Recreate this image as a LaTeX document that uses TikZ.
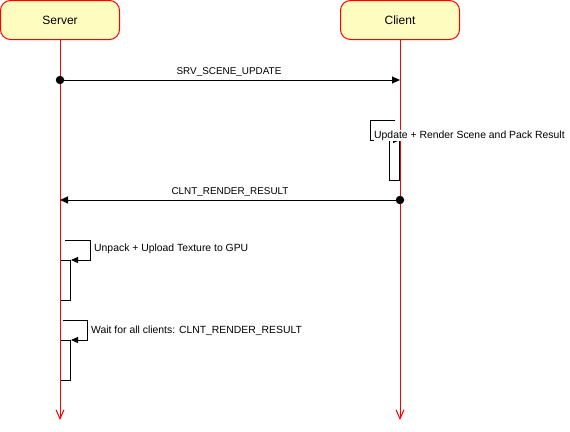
\documentclass[tikz,border=0pt]{standalone}
\usepackage{fontspec}
\setmainfont{Liberation Sans}
\usetikzlibrary{arrows.meta,positioning}
\definecolor{lifered}{rgb}{1.,0.,0.}
\definecolor{boxfill}{RGB}{255,252,192}
\tikzset{
  actor/.style={draw=lifered,fill=boxfill,line width=1pt,rounded corners=10pt,minimum width=119pt,minimum height=39pt,inner sep=0pt,font=\fontsize{12}{14}\selectfont},
  lifeline/.style={draw=lifered,line width=1pt,-{Straight Barb[length=9pt,width=8pt]}},
  activation/.style={draw=black,fill=white,line width=1pt,minimum width=10pt,minimum height=40pt,inner sep=0pt},
  dot/.style={circle,fill=black,minimum size=8.5pt,inner sep=0pt},
  msg/.style={line width=1pt,-{Triangle[length=8pt,width=7pt]}},
  selfmsg/.style={line width=1pt,-{Triangle[length=7pt,width=6pt]}},
  msglabel/.style={anchor=base,inner sep=0pt,font=\fontsize{9.9}{12}\selectfont},
  selflabel/.style={anchor=base west,fill=white,inner sep=0.5pt,font=\fontsize{10.4}{12}\selectfont}
}
\begin{document}
\begin{tikzpicture}[line cap=butt,line join=miter,x=1pt,y=-1pt]
\useasboundingbox (0,0) rectangle (570,431);
\node[actor] (server) at (60,20) {Server};
\node[actor] (client) at (400,20) {Client};
\coordinate (serverEnd) at (60,420);
\coordinate (clientEnd) at (400,420);
\node[activation,anchor=north west] (actUpload) at (60,260) {};
\node[activation,anchor=north west] (actWait) at (60,340) {};
\node[activation,anchor=north east] (actRender) at (400,140) {};
\draw[lifeline] (server.south) -- (serverEnd);
\draw[lifeline] (client.south) -- (clientEnd);
\node[dot] (srvSend) at (60,80) {};
\coordinate (cltRecv) at (400,80);
\draw[msg] (srvSend.center) -- (cltRecv);
\node[msglabel] (lblUpdate) at (229,74.3) {SRV\_SCENE\_UPDATE};
\node[dot] (cltSend) at (400,200) {};
\coordinate (srvRecv) at (60,200);
\draw[msg] (cltSend.center) -- (srvRecv);
\node[msglabel] (lblResult) at (230,194) {CLNT\_RENDER\_RESULT};
\coordinate (renderLoop) at (395,120);
\draw[selfmsg] (renderLoop) -- (370,120) -- (370,140) -- (actRender.north east);
\node[selflabel] (lblRender) at (373.5,138.3) {Update + Render Scene and Pack Result};
\coordinate (uploadLoop) at (65,240);
\draw[selfmsg] (uploadLoop) -- (90,240) -- (90,260) -- (actUpload.north east);
\node[selflabel] (lblUpload) at (93.5,251) {Unpack + Upload Texture to GPU};
\coordinate (waitLoop) at (63,320);
\draw[selfmsg] (waitLoop) -- (87,320) -- (87,340) -- (actWait.north east);
\node[selflabel] (lblWait) at (90.5,333) {Wait for all clients: CLNT\_RENDER\_RESULT};
\end{tikzpicture}
\end{document}
